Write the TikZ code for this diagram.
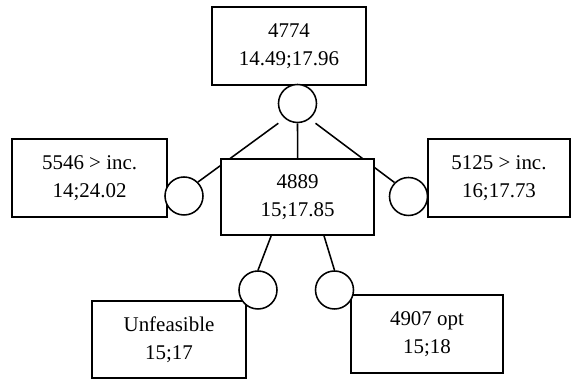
\documentclass[tikz,border=0pt]{standalone}
\usepackage{fontspec}
\setmainfont{Liberation Serif}
\usetikzlibrary{backgrounds}

\begin{document}
\begin{tikzpicture}[line width=1.1pt,
    box/.style={draw, fill=white, align=center, inner sep=0pt,
      font=\fontsize{14.9}{19.6}\selectfont},
    ring/.style={draw, circle, fill=white, minimum size=0.95cm, inner sep=0pt},
    branch/.style={draw, line width=1.1pt}]
          \useasboundingbox (0, 0) rectangle (14.275, -9.475);
          % boxes
          \node[box, minimum width=3.85cm, minimum height=1.95cm] (root) at (7.225, -1.15) {4774\\14.49;17.96};
          \node[box, minimum width=3.875cm, minimum height=1.95cm] (left) at (2.24, -4.45) {5546 > inc.\\14;24.02};
          \node[box, minimum width=3.825cm, minimum height=1.9cm] (mid) at (7.44, -4.925) {4889\\15;17.85};
          \node[box, minimum width=3.55cm, minimum height=1.95cm] (right) at (12.475, -4.45) {5125 > inc.\\16;17.73};
          \node[box, minimum width=3.85cm, minimum height=1.925cm] (unf) at (4.225, -8.49) {Unfeasible\\15;17};
          \node[box, minimum width=3.8cm, minimum height=1.95cm] (opt) at (10.675, -8.35) {4907 opt\\15;18};
          % circles
          \node[ring] (rootc) at (7.4375, -2.5875) {};
          \node[ring] (leftc) at (4.6, -4.9) {};
          \node[ring] (rightc) at (10.2125, -4.9125) {};
          \node[ring] (unfc) at (6.45, -7.25) {};
          \node[ring] (optc) at (8.3625, -7.25) {};
          % branches
          \begin{scope}[on background layer]
            \draw[branch] ([xshift=-0.48cm]rootc.south) -- (leftc.45);
            \draw[branch] (rootc.south) -- (mid.north);
            \draw[branch] ([xshift=0.45cm]rootc.south) -- (rightc.135);
            \draw[branch] ([xshift=-0.66cm]mid.south) -- (unfc.north);
            \draw[branch] ([xshift=0.66cm]mid.south) -- (optc.north);
          \end{scope}
        \end{tikzpicture}
\end{document}
